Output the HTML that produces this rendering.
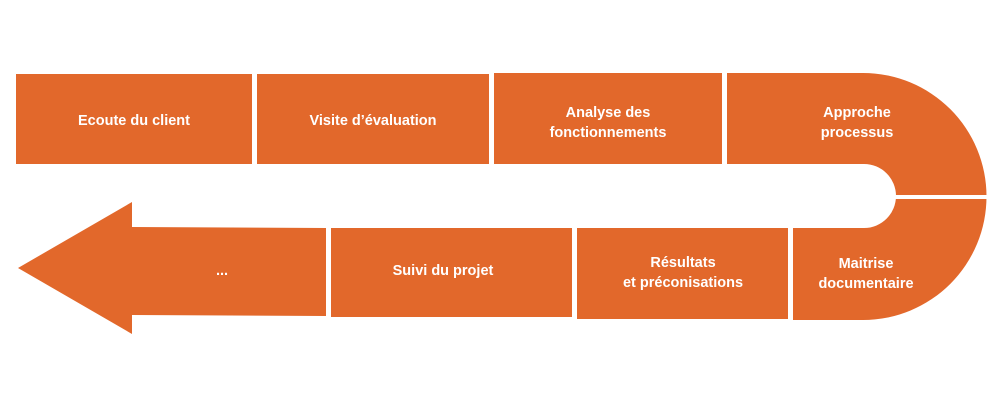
<!DOCTYPE html>
<html><head><meta charset="utf-8"><style>
html,body{margin:0;padding:0;background:#fff;}
svg{display:block;}
text{font-family:"Liberation Sans",sans-serif;font-weight:bold;font-size:14.5px;fill:#fff;text-anchor:middle;}
</style></head><body>
<svg width="1000" height="400" viewBox="0 0 1000 400">
<g fill="#E2682B">
<rect x="16" y="74" width="236" height="90"/>
<rect x="257" y="74" width="232" height="90"/>
<rect x="494" y="73" width="228" height="91"/>
<path d="M727,73 L863,73 A123,123 0 0 1 863,320 L793,320 L793,228 L864,228 A32,32 0 0 0 864,164 L727,164 Z"/>
<rect x="577" y="228" width="211" height="91"/>
<rect x="331" y="228" width="241" height="89"/>
<path d="M326,228 L326,316 L132,315 L132,334 L18,268 L132,202 L132,227 Z"/>
</g>
<line x1="894" y1="197" x2="992" y2="197" stroke="#fff" stroke-width="4"/>
<text x="134" y="125">Ecoute du client</text>
<text x="373" y="125">Visite d’évaluation</text>
<text x="608" y="117">Analyse des</text>
<text x="608" y="137">fonctionnements</text>
<text x="857" y="117">Approche</text>
<text x="857" y="137">processus</text>
<text x="866" y="268">Maitrise</text>
<text x="866" y="288">documentaire</text>
<text x="683" y="267">Résultats</text>
<text x="683" y="287">et préconisations</text>
<text x="443" y="275">Suivi du projet</text>
<text x="222" y="275">...</text>
</svg>
</body></html>
